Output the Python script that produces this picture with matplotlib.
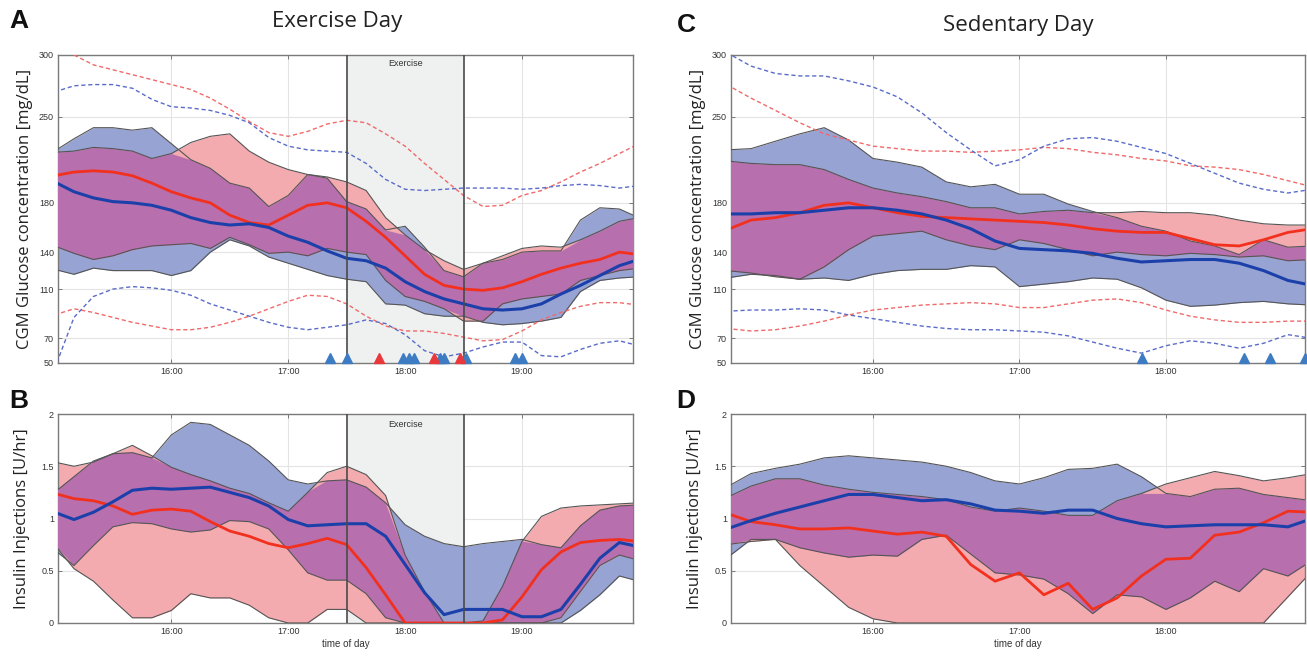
import numpy as np
import matplotlib
matplotlib.use("Agg")
import matplotlib.pyplot as plt
import matplotlib.transforms as mtransforms

# ---------------- data ----------------
# time grids (minutes since midnight, every 10 min)
TIME_EX = np.arange(15 * 60, 20 * 60 + 1, 10) / 60.0      # exercise day 15:00-20:00
TIME_SED = np.arange(15 * 60, 19 * 60 + 1, 10) / 60.0     # sedentary day 15:00-19:00

# Panel A: CGM glucose, exercise day (mg/dL)
A_blue_med = [197, 189, 184, 181, 180, 178, 174, 168, 164, 162, 163, 160, 153, 148, 141, 135,
              133, 127, 116, 108, 102, 98, 94, 93, 94, 98, 106, 113, 121, 129, 134]
A_red_med = [202, 205, 206, 205, 202, 196, 189, 184, 180, 170, 164, 162, 170, 178, 180, 176,
             165, 152, 137, 122, 113, 110, 109, 111, 116, 122, 127, 131, 134, 140, 138]
A_blue_hi = [222, 232, 241, 241, 239, 241, 228, 215, 208, 196, 192, 177, 186, 203, 200, 181,
             175, 158, 161, 144, 125, 120, 131, 134, 140, 141, 141, 166, 176, 175, 168]
A_blue_lo = [126, 122, 127, 125, 125, 125, 121, 125, 140, 150, 145, 136, 131, 126, 121, 118,
             116, 98, 97, 90, 88, 88, 83, 81, 82, 84, 87, 108, 117, 119, 120]
A_red_hi = [221, 222, 225, 224, 222, 216, 220, 229, 234, 236, 222, 213, 207, 203, 201, 197,
            190, 168, 154, 142, 133, 126, 131, 137, 143, 145, 144, 150, 157, 165, 168]
A_red_lo = [145, 139, 134, 137, 142, 145, 146, 147, 143, 152, 146, 139, 140, 137, 143, 140,
            138, 117, 104, 100, 94, 84, 84, 98, 102, 104, 106, 117, 121, 125, 127]
A_blue_max = [270, 275, 276, 276, 273, 264, 258, 257, 255, 251, 245, 233, 226, 223, 222, 221,
              212, 199, 191, 190, 191, 192, 192, 192, 191, 192, 194, 195, 194, 192, 194]
A_red_max = [306, 300, 292, 288, 284, 280, 276, 272, 265, 256, 246, 237, 234, 238, 244, 247,
             245, 236, 226, 212, 199, 186, 177, 178, 186, 190, 197, 205, 212, 220, 228]
A_red_min = [89, 94, 91, 87, 83, 80, 77, 77, 79, 83, 88, 94, 100, 105, 104, 98,
             88, 80, 76, 76, 74, 71, 68, 69, 76, 85, 91, 96, 99, 99, 97]
A_blue_min = [45, 87, 104, 110, 112, 111, 109, 105, 98, 93, 88, 83, 79, 77, 79, 81,
              85, 82, 73, 60, 55, 58, 63, 67, 67, 56, 55, 61, 66, 68, 64]
A_hypo_blue = [17.36, 17.50, 17.98, 18.03, 18.08, 18.30, 18.33, 18.52, 18.94, 19.00]
A_hypo_red = [17.78, 18.25, 18.47]

# Panel B: insulin, exercise day (U/hr)
B_blue_med = [1.06, 0.99, 1.06, 1.16, 1.27, 1.29, 1.28, 1.29, 1.30, 1.25, 1.20, 1.12, 0.99, 0.93,
              0.94, 0.95, 0.95, 0.83, 0.56, 0.29, 0.08, 0.13, 0.13, 0.13, 0.06, 0.06, 0.13, 0.37,
              0.62, 0.77, 0.73]
B_red_med = [1.24, 1.19, 1.17, 1.12, 1.04, 1.08, 1.09, 1.07, 0.97, 0.88, 0.83, 0.76, 0.72, 0.76,
             0.81, 0.75, 0.53, 0.27, 0.0, 0.0, 0.0, 0.0, 0.0, 0.03, 0.25, 0.51, 0.68, 0.77,
             0.79, 0.80, 0.78]
B_blue_hi = [1.25, 1.40, 1.55, 1.62, 1.63, 1.58, 1.80, 1.92, 1.90, 1.80, 1.70, 1.55, 1.37, 1.33,
             1.36, 1.37, 1.30, 1.15, 0.94, 0.83, 0.76, 0.73, 0.76, 0.78, 0.80, 0.75, 0.72, 0.93,
             1.08, 1.12, 1.13]
B_blue_lo = [0.70, 0.55, 0.74, 0.92, 0.96, 0.95, 0.90, 0.87, 0.89, 0.98, 0.97, 0.90, 0.70, 0.48,
             0.41, 0.41, 0.28, 0.05, 0.0, 0.0, 0.0, 0.0, 0.0, 0.0, 0.0, 0.0, 0.0, 0.12,
             0.27, 0.45, 0.40]
B_red_hi = [1.54, 1.50, 1.54, 1.62, 1.70, 1.60, 1.49, 1.42, 1.36, 1.29, 1.24, 1.15, 1.07, 1.25,
            1.44, 1.50, 1.42, 1.22, 0.65, 0.30, 0.0, 0.0, 0.02, 0.35, 0.78, 1.02, 1.10, 1.12,
            1.13, 1.14, 1.15]
B_red_lo = [0.75, 0.52, 0.40, 0.22, 0.05, 0.05, 0.12, 0.28, 0.24, 0.24, 0.17, 0.05, 0.0, 0.0,
            0.13, 0.13, 0.0, 0.0, 0.0, 0.0, 0.0, 0.0, 0.0, 0.0, 0.0, 0.0, 0.05, 0.30,
            0.55, 0.65, 0.60]

# Panel C: CGM glucose, sedentary day (mg/dL)
C_blue_med = [171, 171, 172, 172, 174, 176, 176, 174, 171, 166, 159, 149, 143, 142, 141, 139,
              135, 132, 133, 134, 134, 131, 125, 117, 113]
C_red_med = [158, 166, 168, 172, 178, 180, 176, 172, 169, 168, 167, 166, 165, 164, 162, 159,
             157, 156, 156, 151, 146, 145, 150, 156, 159]
C_blue_hi = [223, 224, 230, 236, 241, 231, 216, 213, 209, 197, 193, 195, 187, 187, 179, 173,
             168, 161, 157, 149, 145, 138, 150, 144, 145]
C_blue_lo = [119, 122, 121, 118, 119, 117, 122, 125, 126, 126, 129, 128, 112, 114, 116, 119,
             118, 111, 101, 96, 97, 99, 100, 98, 97]
C_red_hi = [214, 212, 211, 211, 207, 199, 192, 188, 185, 181, 176, 176, 171, 173, 174, 172,
            172, 173, 172, 172, 170, 166, 163, 162, 162]
C_red_lo = [125, 123, 120, 118, 128, 142, 153, 155, 157, 150, 145, 142, 150, 147, 142, 137,
            140, 138, 137, 139, 138, 136, 137, 133, 134]
C_blue_max = [302, 291, 285, 283, 283, 279, 274, 266, 253, 237, 223, 210, 215, 226, 232, 233,
              230, 225, 220, 212, 204, 196, 191, 188, 191]
C_red_max = [276, 265, 255, 245, 236, 231, 226, 224, 222, 222, 221, 222, 223, 225, 224, 221,
             219, 216, 214, 210, 209, 207, 203, 198, 193]
C_red_min = [78, 76, 77, 80, 84, 89, 93, 95, 97, 98, 99, 98, 95, 95, 98, 101,
             102, 99, 93, 88, 85, 83, 83, 84, 84]
C_blue_min = [92, 93, 93, 94, 93, 89, 86, 83, 80, 78, 77, 77, 76, 75, 72, 67,
              62, 58, 64, 68, 66, 62, 66, 73, 70]
C_hypo_blue = [17.84, 18.53, 18.71, 18.95]

# Panel D: insulin, sedentary day (U/hr)
D_blue_med = [0.90, 0.98, 1.05, 1.11, 1.17, 1.23, 1.23, 1.20, 1.17, 1.18, 1.14, 1.08, 1.07, 1.05,
              1.08, 1.08, 1.00, 0.95, 0.92, 0.93, 0.94, 0.94, 0.94, 0.92, 1.00]
D_red_med = [1.05, 0.97, 0.94, 0.90, 0.90, 0.91, 0.88, 0.85, 0.87, 0.83, 0.56, 0.40, 0.48, 0.27,
             0.38, 0.13, 0.24, 0.45, 0.61, 0.62, 0.84, 0.87, 0.96, 1.07, 1.06]
D_blue_hi = [1.30, 1.43, 1.48, 1.52, 1.58, 1.60, 1.58, 1.56, 1.54, 1.50, 1.44, 1.36, 1.33, 1.39,
             1.47, 1.48, 1.52, 1.40, 1.24, 1.21, 1.28, 1.29, 1.23, 1.20, 1.17]
D_blue_lo = [0.62, 0.80, 0.80, 0.72, 0.67, 0.63, 0.65, 0.64, 0.80, 0.84, 0.66, 0.48, 0.46, 0.42,
             0.28, 0.09, 0.27, 0.25, 0.13, 0.24, 0.40, 0.30, 0.52, 0.45, 0.60]
D_red_hi = [1.20, 1.31, 1.38, 1.38, 1.32, 1.28, 1.25, 1.23, 1.21, 1.18, 1.11, 1.07, 1.10, 1.07,
            1.03, 1.03, 1.17, 1.24, 1.33, 1.39, 1.45, 1.41, 1.36, 1.39, 1.43]
D_red_lo = [0.75, 0.78, 0.80, 0.55, 0.35, 0.15, 0.04, 0.0, 0.0, 0.0, 0.0, 0.0, 0.0, 0.0,
            0.0, 0.0, 0.0, 0.0, 0.0, 0.0, 0.0, 0.0, 0.0, 0.25, 0.50]

GLU_TICKS = [50, 70, 110, 140, 180, 250, 300]
INS_TICKS = [0, 0.5, 1, 1.5, 2]
INS_TICKLABELS = ["0", "0.5", "1", "1.5", "2"]
EX_HOURS = [16, 17, 18, 19]
SED_HOURS = [16, 17, 18]
EXERCISE_WINDOW = (17.5, 18.5)

# ---------------- style ----------------
BLUE_BAND = "#97a3d3"
RED_BAND = "#f4abb0"
PURPLE = "#b86fae"
EDGE = "#555555"
BLUE_LINE = "#1c40aa"
RED_LINE = "#f2301e"
BLUE_DASH = "#5a6cc8"
RED_DASH = "#f06a6a"
TICK_FONT = "Liberation Sans"

fig = plt.figure(figsize=(13.07, 6.56), dpi=100)
fig.patch.set_facecolor("white")

W, H = 1307.0, 656.0


def make_ax(left, top, right, bottom):
    return fig.add_axes([left / W, 1 - bottom / H, (right - left) / W, (bottom - top) / H])


axA = make_ax(58, 55, 633, 363)
axB = make_ax(58, 414, 633, 623)
axC = make_ax(731, 55, 1305, 363)
axD = make_ax(731, 414, 1305, 623)


def style_axis(ax, xlim, ylim, hours, yticks, yticklabels=None):
    ax.set_xlim(*xlim)
    ax.set_ylim(*ylim)
    ax.set_xticks(hours)
    ax.set_xticklabels([f"{h}:00" for h in hours], fontsize=6.5, family=TICK_FONT, color="#333333")
    ax.set_yticks(yticks)
    ax.set_yticklabels(yticklabels if yticklabels else [str(v) for v in yticks],
                       fontsize=6.5, family=TICK_FONT, color="#333333")
    ax.grid(True, color="#e4e4e4", linewidth=0.8)
    ax.set_axisbelow(True)
    ax.tick_params(direction="in", length=3, width=0.6, color="#666666", top=True, right=True, pad=3)
    for s in ax.spines.values():
        s.set_color("#7a7a7a")
        s.set_linewidth(1.0)


def draw_bands(ax, t, bhi, blo, rhi, rlo):
    bhi, blo, rhi, rlo = map(np.asarray, (bhi, blo, rhi, rlo))
    ax.fill_between(t, blo, bhi, color=BLUE_BAND, linewidth=0, zorder=2)
    ax.fill_between(t, rlo, rhi, color=RED_BAND, linewidth=0, zorder=2)
    lo = np.maximum(blo, rlo)
    hi = np.minimum(bhi, rhi)
    ax.fill_between(t, lo, hi, where=hi > lo, interpolate=True, color=PURPLE, linewidth=0, zorder=3)
    for arr in (bhi, blo, rhi, rlo):
        ax.plot(t, arr, color=EDGE, linewidth=0.8, zorder=4)


def draw_exercise(ax, label_y):
    ax.axvspan(*EXERCISE_WINDOW, color="#eff1f1", zorder=1, linewidth=0)
    for x in EXERCISE_WINDOW:
        ax.axvline(x, color="#4a4a4a", linewidth=1.2, zorder=6)
    ax.text(sum(EXERCISE_WINDOW) / 2, label_y, "Exercise", ha="center", va="center",
            fontsize=6.5, family=TICK_FONT, color="#333333", zorder=7)


def draw_hypo(ax, times, color, ymin):
    trans = mtransforms.offset_copy(ax.transData, fig=fig, x=0, y=3.5, units="points")
    ax.plot(times, [ymin] * len(times), linestyle="none", marker="^", markersize=6.5,
            color=color, markeredgecolor=color, transform=trans, clip_on=False, zorder=8)


LABEL_KW = dict(family="Open Sans", fontsize=12, color="#222222")

# ---- Panel A ----
draw_exercise(axA, 293)
draw_bands(axA, TIME_EX, A_blue_hi, A_blue_lo, A_red_hi, A_red_lo)
dash = (0, (3, 2))
axA.plot(TIME_EX, A_red_max, color=RED_DASH, linewidth=1.0, linestyle=dash, zorder=5)
axA.plot(TIME_EX, A_blue_max, color=BLUE_DASH, linewidth=1.0, linestyle=dash, zorder=5)
axA.plot(TIME_EX, A_red_min, color=RED_DASH, linewidth=1.0, linestyle=dash, zorder=5)
axA.plot(TIME_EX, A_blue_min, color=BLUE_DASH, linewidth=1.0, linestyle=dash, zorder=5)
axA.plot(TIME_EX, A_red_med, color=RED_LINE, linewidth=2.0, zorder=5)
axA.plot(TIME_EX, A_blue_med, color=BLUE_LINE, linewidth=2.2, zorder=5)
style_axis(axA, (15.03, 19.95), (50, 300), EX_HOURS, GLU_TICKS)
draw_hypo(axA, A_hypo_blue, "#3d7cc2", 50)
draw_hypo(axA, A_hypo_red, "#e8383c", 50)
axA.set_ylabel("CGM Glucose concentration [mg/dL]", labelpad=4, **LABEL_KW)

# ---- Panel B ----
draw_exercise(axB, 1.9)
draw_bands(axB, TIME_EX, B_blue_hi, B_blue_lo, B_red_hi, B_red_lo)
axB.plot(TIME_EX, B_red_med, color=RED_LINE, linewidth=2.0, zorder=5)
axB.plot(TIME_EX, B_blue_med, color=BLUE_LINE, linewidth=2.2, zorder=5)
style_axis(axB, (15.03, 19.95), (0, 2), EX_HOURS, INS_TICKS, INS_TICKLABELS)
axB.set_ylabel("Insulin Injections [U/hr]", labelpad=8, **LABEL_KW)
axB.set_xlabel("time of day", family=TICK_FONT, fontsize=7, color="#333333", labelpad=2)

# ---- Panel C ----
draw_bands(axC, TIME_SED, C_blue_hi, C_blue_lo, C_red_hi, C_red_lo)
axC.plot(TIME_SED, C_red_max, color=RED_DASH, linewidth=1.0, linestyle=dash, zorder=5)
axC.plot(TIME_SED, C_blue_max, color=BLUE_DASH, linewidth=1.0, linestyle=dash, zorder=5)
axC.plot(TIME_SED, C_red_min, color=RED_DASH, linewidth=1.0, linestyle=dash, zorder=5)
axC.plot(TIME_SED, C_blue_min, color=BLUE_DASH, linewidth=1.0, linestyle=dash, zorder=5)
axC.plot(TIME_SED, C_red_med, color=RED_LINE, linewidth=2.0, zorder=5)
axC.plot(TIME_SED, C_blue_med, color=BLUE_LINE, linewidth=2.2, zorder=5)
style_axis(axC, (15.03, 18.95), (50, 300), SED_HOURS, GLU_TICKS)
draw_hypo(axC, C_hypo_blue, "#3d7cc2", 50)
axC.set_ylabel("CGM Glucose concentration [mg/dL]", labelpad=4, **LABEL_KW)

# ---- Panel D ----
draw_bands(axD, TIME_SED, D_blue_hi, D_blue_lo, D_red_hi, D_red_lo)
axD.plot(TIME_SED, D_red_med, color=RED_LINE, linewidth=2.0, zorder=5)
axD.plot(TIME_SED, D_blue_med, color=BLUE_LINE, linewidth=2.2, zorder=5)
style_axis(axD, (15.03, 18.95), (0, 2), SED_HOURS, INS_TICKS, INS_TICKLABELS)
axD.set_ylabel("Insulin Injections [U/hr]", labelpad=8, **LABEL_KW)
axD.set_xlabel("time of day", family=TICK_FONT, fontsize=7, color="#333333", labelpad=2)

# ---- titles and panel letters ----
fig.text(337 / W, 1 - 22 / H, "Exercise Day", ha="center", va="center",
         family="Open Sans", fontsize=16, color="#222222")
fig.text(1018 / W, 1 - 25 / H, "Sedentary Day", ha="center", va="center",
         family="Open Sans", fontsize=16, color="#222222")
for letter, (x, y) in {"A": (19, 21), "B": (19, 401), "C": (686, 25), "D": (686, 401)}.items():
    fig.text(x / W, 1 - y / H, letter, ha="center", va="center", family="Liberation Sans",
             fontweight="bold", fontsize=19, color="#111111")

fig.savefig("out.png", dpi=100, facecolor="white")
